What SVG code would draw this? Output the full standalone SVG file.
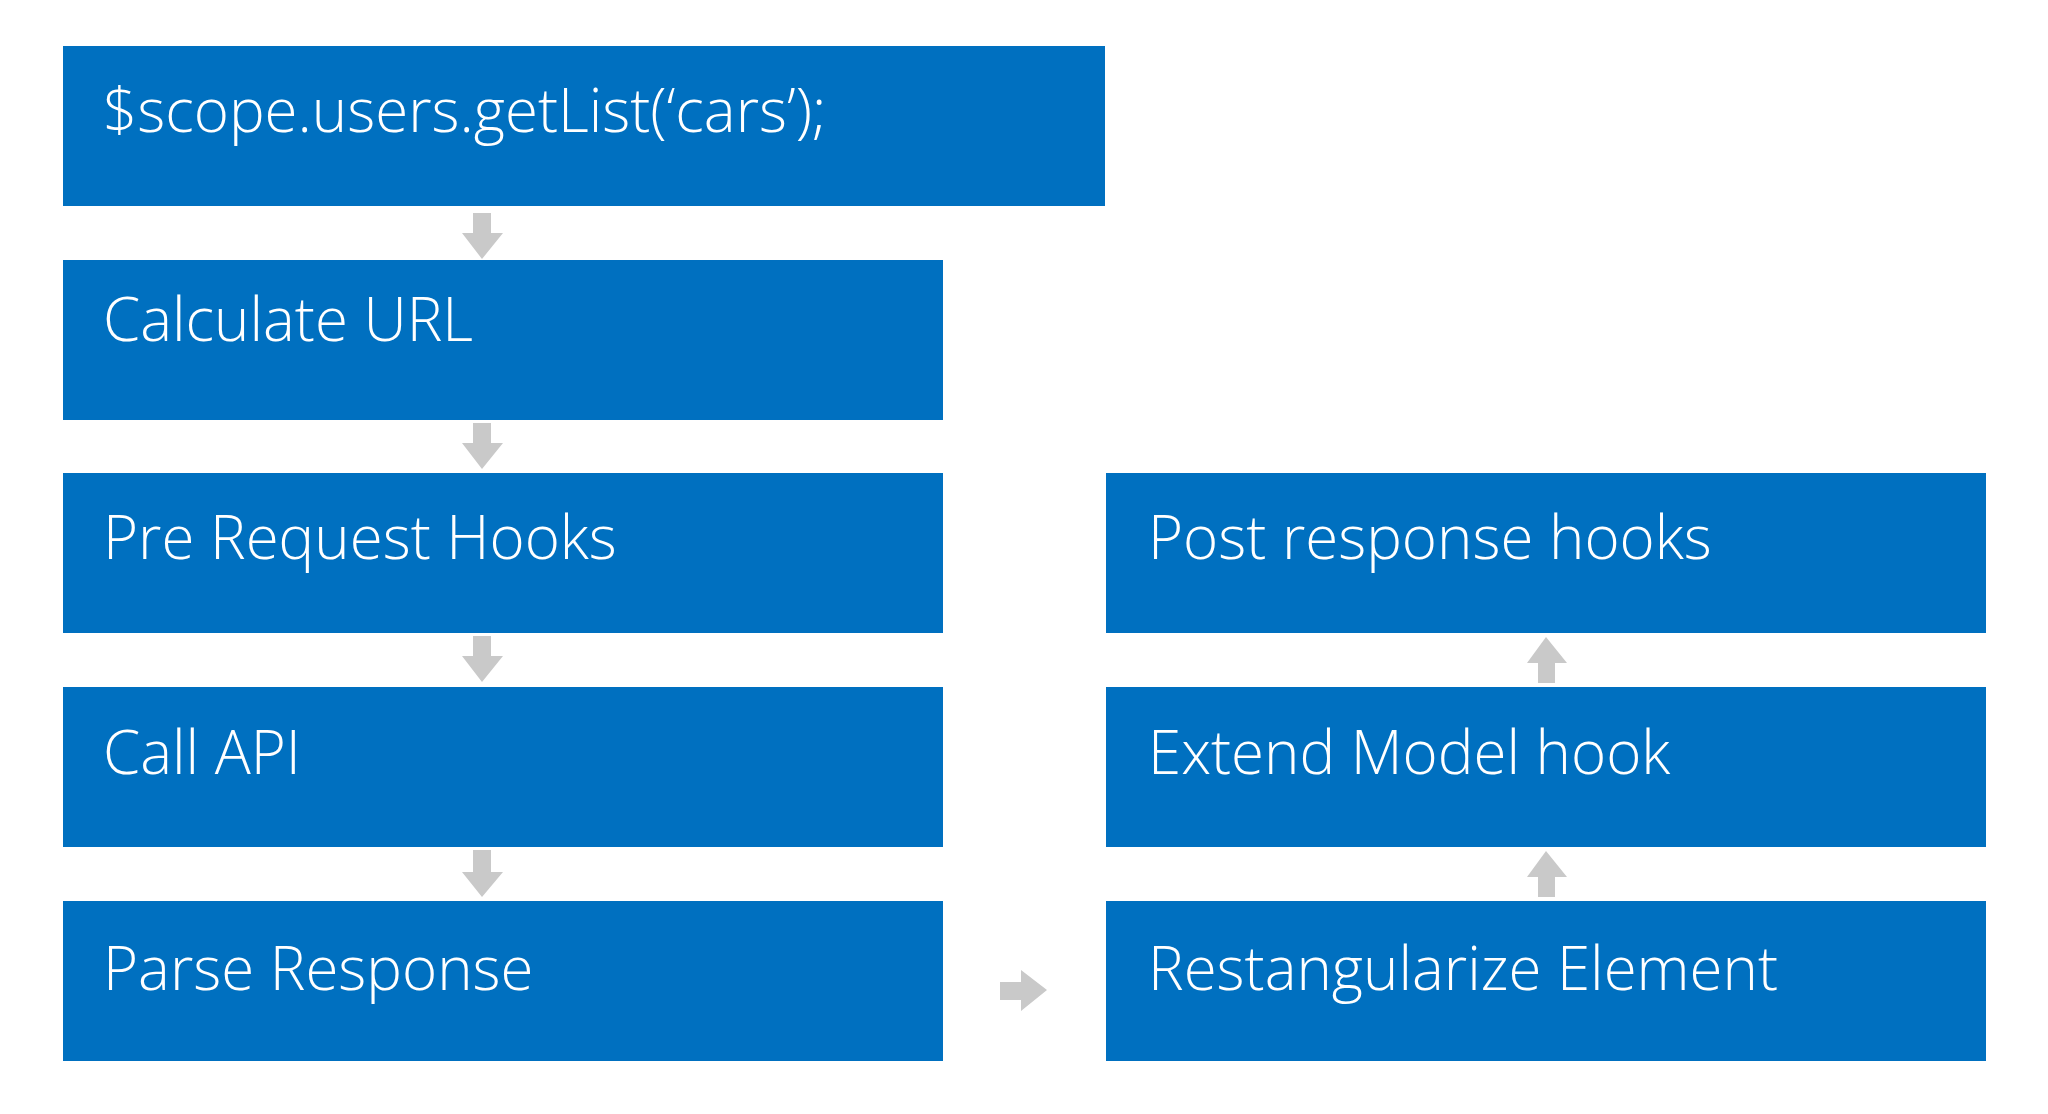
<svg xmlns="http://www.w3.org/2000/svg" width="2048" height="1114" viewBox="0 0 2048 1114">
<style>
.box{fill:#0070C0}
.lbl{fill:#FFFFFF;font-family:"Open Sans","Noto Sans","DejaVu Sans",sans-serif;font-weight:300;font-size:60px}
.arr{fill:#C9C9C9}
</style>
<rect width="2048" height="1114" fill="#FFFFFF"/>
<g id="node-getlist"><rect class="box" x="63" y="46" width="1042" height="160"/><text class="lbl" x="103" y="132">$scope.users.getList(‘cars’);</text></g>
<g id="node-calc-url"><rect class="box" x="63" y="260" width="880" height="160"/><text class="lbl" x="103" y="341">Calculate URL</text></g>
<g id="node-pre-request"><rect class="box" x="63" y="473" width="880" height="160"/><text class="lbl" x="103" y="559">Pre Request Hooks</text></g>
<g id="node-call-api"><rect class="box" x="63" y="687" width="880" height="160"/><text class="lbl" x="103" y="774">Call API</text></g>
<g id="node-parse"><rect class="box" x="63" y="901" width="880" height="160"/><text class="lbl" x="103" y="990">Parse Response</text></g>
<g id="node-post"><rect class="box" x="1106" y="473" width="880" height="160"/><text class="lbl" x="1148" y="559">Post response hooks</text></g>
<g id="node-extend"><rect class="box" x="1106" y="687" width="880" height="160"/><text class="lbl" x="1148" y="774">Extend Model hook</text></g>
<g id="node-restang"><rect class="box" x="1106" y="901" width="880" height="160"/><text class="lbl" x="1148" y="990">Restangularize Element</text></g>
<g id="connectors">
<polygon class="arr" points="473,213 491,213 491,233 503,233 482,259 462,233 473,233"/>
<polygon class="arr" points="473,423 491,423 491,443 503,443 482,469 462,443 473,443"/>
<polygon class="arr" points="473,636 491,636 491,656 503,656 482,682 462,656 473,656"/>
<polygon class="arr" points="473,850 491,850 491,872 503,872 482,897 462,872 473,872"/>
<polygon class="arr" points="1000,982 1021,982 1021,970 1047,990 1021,1011 1021,1000 1000,1000"/>
<polygon class="arr" points="1538,683 1555,683 1555,663 1567,663 1546,637 1527,663 1538,663"/>
<polygon class="arr" points="1538,897 1555,897 1555,877 1567,877 1546,851 1527,877 1538,877"/>
</g>
</svg>
